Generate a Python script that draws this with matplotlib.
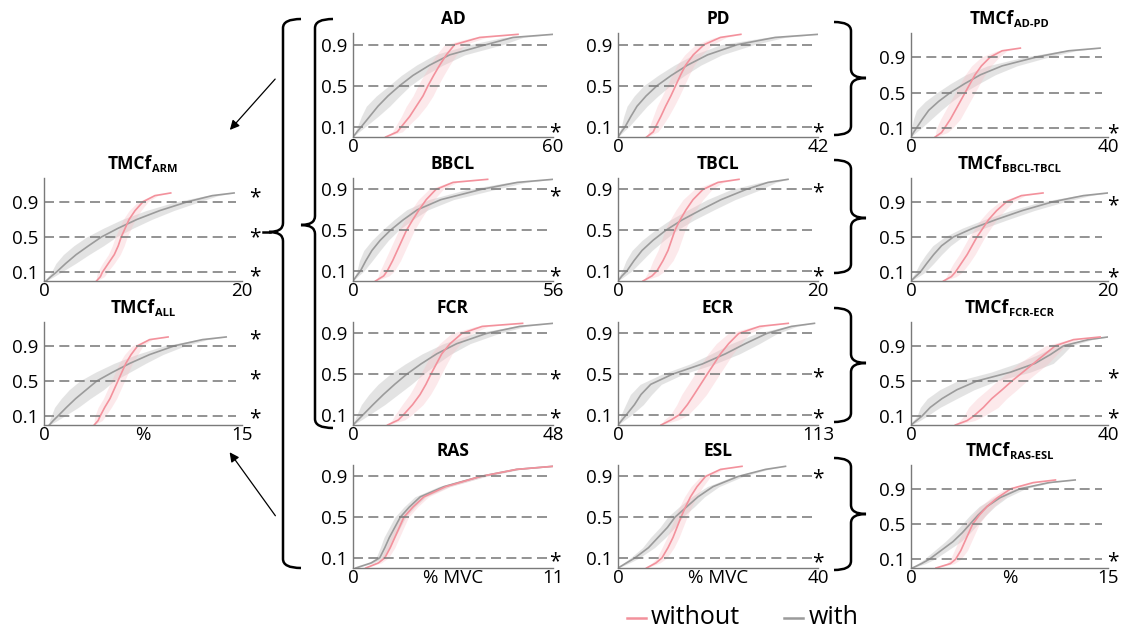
import numpy as np
import matplotlib
matplotlib.use("Agg")
import matplotlib.pyplot as plt
from matplotlib.path import Path
from matplotlib.patches import PathPatch, FancyArrowPatch
from matplotlib.lines import Line2D

plt.rcParams['font.family'] = ['Open Sans', 'DejaVu Sans']

W, H = 1126, 631

# cumulative levels at which the curves were read
levels = [0, 0.05, 0.1, 0.2, 0.3, 0.4, 0.5, 0.6, 0.7, 0.8, 0.9, 0.97, 1.0]

# x value at each level ("with" = gray, "without" = pink) and band half widths
ad_with = [0, 1.2, 2.5, 5.0, 7.5, 10.5, 14, 18, 23, 29, 40, 48, 60]
ad_with_band = [0, 0.6, 1.2, 2.5, 3.5, 3.5, 3.2, 3.5, 4.0, 4.5, 5, 3, 0]
ad_without = [9.8, 13.3, 14.5, 17, 19, 21, 22.5, 24.2, 26, 28, 30.5, 38, 49.5]
ad_without_band = [0, 1.5, 1.8, 2.5, 3, 3, 3, 3, 3, 3, 3, 2, 0]

pd_with = [0, 0.7, 1.5, 2.7, 4.0, 5.9, 8.2, 11.2, 14.6, 18.8, 25.1, 33, 42]
pd_with_band = [0, 0.4, 0.8, 1.5, 2.1, 2.5, 2.8, 2.8, 2.8, 3.0, 3.5, 2, 0]
pd_without = [6.0, 7.4, 7.9, 9.0, 10, 11.1, 12.1, 13.1, 14.2, 15.8, 18.1, 21.5, 25.8]
pd_without_band = [0, 1.0, 1.3, 1.6, 1.8, 1.8, 1.8, 1.8, 1.8, 1.8, 1.8, 1.2, 0]

adpd_with = [0, 0.5, 1.1, 2.3, 3.6, 5.6, 8.0, 10.9, 14.1, 18.5, 25.5, 32, 38.4]
adpd_with_band = [0, 0.5, 1.0, 1.8, 2.5, 2.7, 2.7, 2.9, 3.0, 3.0, 2.5, 1.5, 0]
adpd_without = [4.9, 6.2, 6.8, 8.0, 9.0, 10.0, 11.0, 12.0, 13.0, 14.3, 16.1, 18.5, 22.2]
adpd_without_band = [0, 1.2, 1.6, 2.0, 2.0, 2.0, 2.0, 2.0, 2.0, 2.0, 1.8, 1.0, 0]

bbcl_with = [0, 1.0, 2.1, 3.6, 5.3, 7.6, 10.5, 14.0, 18, 24.6, 35.8, 46, 56]
bbcl_with_band = [0, 0.5, 1.0, 1.8, 2.3, 2.3, 2.3, 2.6, 3.0, 3.5, 4.0, 2.5, 0]
bbcl_without = [6.3, 8.6, 9.6, 11.1, 12.4, 13.7, 15, 16.7, 18.5, 20.5, 23.2, 28, 37.7]
bbcl_without_band = [0, 1.5, 2.0, 2.2, 2.2, 2.2, 2.2, 2.2, 2.2, 2.2, 2.0, 1.2, 0]

tbcl_with = [0, 0.4, 0.9, 1.6, 2.4, 3.5, 4.8, 6.4, 8.3, 10.3, 12.8, 15, 17]
tbcl_with_band = [0, 0.3, 0.5, 0.8, 1.0, 1.1, 1.1, 1.2, 1.3, 1.4, 1.5, 0.8, 0]
tbcl_without = [2.5, 3.4, 3.9, 4.5, 5.0, 5.35, 5.7, 6.2, 6.8, 7.5, 8.5, 10, 12.1]
tbcl_without_band = [0, 0.6, 0.8, 1.0, 1.0, 1.0, 1.0, 1.0, 1.0, 1.0, 0.9, 0.5, 0]

bt_with = [0, 0.45, 0.94, 1.6, 2.3, 3.1, 4.3, 6.3, 8.7, 11.3, 14.4, 17.5, 20]
bt_with_band = [0, 0.3, 0.5, 0.7, 0.8, 0.9, 0.9, 1.1, 1.2, 1.2, 1.2, 0.7, 0]
bt_without = [3.3, 4.1, 4.5, 5.1, 5.7, 6.2, 6.7, 7.3, 7.9, 8.7, 9.7, 11.2, 13.4]
bt_without_band = [0, 0.5, 0.7, 0.8, 0.8, 0.8, 0.8, 0.8, 0.8, 0.8, 0.7, 0.4, 0]

arm_with = [0.2, 0.7, 1.24, 2.2, 3.25, 4.5, 5.8, 7.5, 9.4, 11.7, 14.5, 17, 19.2]
arm_with_band = [0, 0.3, 0.5, 1.0, 1.3, 1.5, 1.5, 1.5, 1.5, 1.4, 1.2, 0.6, 0]
arm_without = [5.3, 5.7, 5.9, 6.5, 7.1, 7.5, 7.8, 8.2, 8.6, 9.2, 10.0, 11.2, 12.8]
arm_without_band = [0, 0.4, 0.5, 0.6, 0.6, 0.6, 0.6, 0.6, 0.6, 0.6, 0.5, 0.3, 0]

all_with = [0.4, 0.7, 1.04, 1.7, 2.4, 3.2, 4.0, 5.2, 6.5, 8.0, 9.9, 12, 13.8]
all_with_band = [0, 0.3, 0.5, 0.9, 1.1, 1.3, 1.3, 1.3, 1.2, 1.0, 0.8, 0.4, 0]
all_without = [3.8, 4.1, 4.25, 4.6, 5.0, 5.3, 5.6, 5.9, 6.2, 6.6, 7.1, 8.0, 9.4]
all_without_band = [0, 0.3, 0.4, 0.5, 0.5, 0.5, 0.5, 0.5, 0.5, 0.5, 0.4, 0.2, 0]

fcr_with = [0, 1.2, 2.4, 4.8, 7.3, 10.0, 12.9, 16.3, 20.1, 24.9, 32, 40, 48]
fcr_with_band = [0, 0.8, 1.5, 2.8, 3.5, 4.0, 4.0, 3.8, 3.5, 3.2, 3.0, 1.5, 0]
fcr_without = [8.3, 10.9, 12.1, 14.3, 16.1, 17.5, 18.7, 20.0, 21.3, 23.3, 26.1, 31, 40.7]
fcr_without_band = [0, 1.5, 2.0, 2.5, 2.5, 2.5, 2.5, 2.5, 2.5, 2.5, 2.5, 1.5, 0]

ecr_with = [0, 2.3, 4.7, 9.3, 13, 18.5, 30.8, 47.6, 60.7, 71.9, 84, 98, 111]
ecr_with_band = [0, 1.5, 3, 5, 6, 6, 6, 7, 8, 8, 6, 3, 0]
ecr_without = [24.3, 30, 34.6, 39.2, 43, 46.7, 50.4, 54.2, 57.9, 62.5, 68.2, 80, 96.2]
ecr_without_band = [0, 4, 5, 6, 7, 7, 7, 7, 7, 7, 6, 3, 0]

fe_with = [0, 1.1, 2.2, 3.9, 6.3, 9.3, 13.4, 20.2, 25.2, 28.3, 31, 36, 40]
fe_with_band = [0, 0.7, 1.0, 2.0, 3.0, 3.5, 4.0, 4.0, 3.7, 2.5, 1.5, 0.8, 0]
fe_without = [9.0, 11.4, 12.7, 14.7, 16.4, 18.5, 20.5, 22.7, 24.9, 27.1, 29.3, 33, 38.4]
fe_without_band = [0, 1.5, 2.0, 3.0, 3.0, 3.0, 3.0, 3.0, 3.0, 2.5, 2.0, 1.0, 0]

ras_with = [0.15, 1.0, 1.47, 1.75, 2.0, 2.3, 2.6, 3.1, 3.7, 5.0, 7.0, 9.0, 11]
ras_with_band = [0, 0.15, 0.2, 0.25, 0.3, 0.3, 0.3, 0.3, 0.3, 0.3, 0.3, 0.2, 0]
ras_without = [0.7, 1.4, 1.75, 2.05, 2.3, 2.55, 2.8, 3.3, 3.9, 5.1, 7.0, 9.0, 11]
ras_without_band = [0, 0.15, 0.2, 0.25, 0.25, 0.25, 0.25, 0.25, 0.25, 0.25, 0.25, 0.15, 0]

esl_with = [0, 1.7, 3.4, 6.1, 8.0, 9.9, 11.4, 13.7, 16.0, 19.0, 24.0, 29.5, 33.5]
esl_with_band = [0, 0.6, 0.9, 1.2, 1.5, 1.5, 1.5, 1.5, 1.3, 1.2, 1.0, 0.6, 0]
esl_without = [5.7, 7.6, 8.8, 10.0, 11.0, 11.8, 12.6, 13.5, 14.5, 15.8, 17.5, 20.5, 24.8]
esl_without_band = [0, 0.8, 1.0, 1.2, 1.2, 1.2, 1.2, 1.2, 1.2, 1.2, 1.0, 0.6, 0]

re_with = [0.1, 0.8, 1.4, 2.3, 3.2, 3.9, 4.5, 5.1, 5.8, 6.8, 8.3, 10.5, 12.5]
re_with_band = [0, 0.3, 0.4, 0.5, 0.6, 0.6, 0.6, 0.6, 0.6, 0.5, 0.4, 0.2, 0]
re_without = [1.9, 3.0, 3.4, 3.8, 4.1, 4.4, 4.7, 5.2, 5.8, 6.6, 7.6, 9.3, 11.0]
re_without_band = [0, 0.3, 0.4, 0.5, 0.5, 0.5, 0.5, 0.5, 0.5, 0.5, 0.4, 0.2, 0]

# asterisk heights per panel
ad_stars = [0.1]
pd_stars = [0.1]
adpd_stars = [0.1]
bbcl_stars = [0.1, 0.88]
tbcl_stars = [0.1, 0.92]
bt_stars = [0.1, 0.92]
arm_stars = [0.11, 0.56, 1.01]
all_stars = [0.13, 0.58, 1.03]
fcr_stars = [0.12, 0.5]
ecr_stars = [0.12, 0.52]
fe_stars = [0.14, 0.59]
ras_stars = [0.12]
esl_stars = [0.11, 0.93]
re_stars = [0.14]

# (title, subscript, x max, x label, column, row, data...)
panels = [
    ("AD", "", 60, "", 2, 1, ad_with, ad_with_band, ad_without, ad_without_band, ad_stars),
    ("PD", "", 42, "", 3, 1, pd_with, pd_with_band, pd_without, pd_without_band, pd_stars),
    ("TMCf", "AD-PD", 40, "", 4, 1, adpd_with, adpd_with_band, adpd_without, adpd_without_band, adpd_stars),
    ("TMCf", "ARM", 20, "", 1, 2, arm_with, arm_with_band, arm_without, arm_without_band, arm_stars),
    ("BBCL", "", 56, "", 2, 2, bbcl_with, bbcl_with_band, bbcl_without, bbcl_without_band, bbcl_stars),
    ("TBCL", "", 20, "", 3, 2, tbcl_with, tbcl_with_band, tbcl_without, tbcl_without_band, tbcl_stars),
    ("TMCf", "BBCL-TBCL", 20, "", 4, 2, bt_with, bt_with_band, bt_without, bt_without_band, bt_stars),
    ("TMCf", "ALL", 15, "%", 1, 3, all_with, all_with_band, all_without, all_without_band, all_stars),
    ("FCR", "", 48, "", 2, 3, fcr_with, fcr_with_band, fcr_without, fcr_without_band, fcr_stars),
    ("ECR", "", 113, "", 3, 3, ecr_with, ecr_with_band, ecr_without, ecr_without_band, ecr_stars),
    ("TMCf", "FCR-ECR", 40, "", 4, 3, fe_with, fe_with_band, fe_without, fe_without_band, fe_stars),
    ("RAS", "", 11, "% MVC", 2, 4, ras_with, ras_with_band, ras_without, ras_without_band, ras_stars),
    ("ESL", "", 40, "% MVC", 3, 4, esl_with, esl_with_band, esl_without, esl_without_band, esl_stars),
    ("TMCf", "RAS-ESL", 15, "%", 4, 4, re_with, re_with_band, re_without, re_without_band, re_stars),
]

col_x = {1: (44, 242), 2: (353, 553), 3: (618, 818), 4: (911, 1108)}
row_y = {1: (33, 137), 2: (178, 281), 3: (322, 425), 4: (465, 568)}
col_ytop = {1: 1.17, 2: 1.013, 3: 1.013, 4: 1.17}
col_star_x = {1: 1.065, 2: 1.01, 3: 1.0, 4: 1.025}

gray_line = '#9b9b9b'
gray_band = '#c9c9c9'
pink_line = '#f3919c'
pink_band = '#f9c0c6'
dash_col = '#808080'


def fx(x):
    return x / W


def fy(y):
    return 1 - y / H


fig = plt.figure(figsize=(W / 100, H / 100), dpi=100)

title_parts = []
for (name, sub, xmax, xlab, col, row, w, wb, wo, wob, stars) in panels:
    x0, x1 = col_x[col]
    y0, y1 = row_y[row]
    ax = fig.add_axes([fx(x0), fy(y1), (x1 - x0) / W, (y1 - y0) / H])
    ax.patch.set_alpha(0)
    w, wb, wo, wob = map(np.array, (w, wb, wo, wob))
    ax.fill_betweenx(levels, w - wb, w + wb, color=gray_band, alpha=0.5, lw=0)
    ax.fill_betweenx(levels, wo - wob, wo + wob, color=pink_band, alpha=0.35, lw=0)
    ax.plot(w, levels, color=gray_line, lw=1.2)
    ax.plot(wo, levels, color=pink_line, lw=1.2)
    for lv in (0.1, 0.5, 0.9):
        ax.axhline(lv, xmin=0, xmax=0.97, color=dash_col, lw=1.2, dashes=(6, 3.2))
    for s in stars:
        ax.annotate("*", xy=(col_star_x[col], s), xycoords=("axes fraction", "data"),
                    xytext=(0, -8), textcoords="offset points", ha="center",
                    va="baseline", fontsize=15, annotation_clip=False)
    ax.set_xlim(0, xmax)
    ax.set_ylim(0, col_ytop[col])
    ax.set_xticks([0, xmax])
    ax.set_xticklabels(["0", str(xmax)])
    ax.set_yticks([0.1, 0.5, 0.9])
    ax.set_yticklabels(["0.1", "0.5", "0.9"])
    ax.tick_params(length=0, labelsize=13.5)
    ax.tick_params(axis="x", pad=1)
    ax.tick_params(axis="y", pad=4)
    for sp in ("top", "right"):
        ax.spines[sp].set_visible(False)
    for sp in ("left", "bottom"):
        ax.spines[sp].set_color('#7a7a7a')
        ax.spines[sp].set_linewidth(1.0)
    if xlab:
        ax.annotate(xlab, xy=(0.5, 0), xycoords="axes fraction", xytext=(0, -1),
                    textcoords="offset points", ha="center", va="top", fontsize=13.5)
    # title, centred over the panel
    cx = (x0 + x1) / 2
    base = y0 - 9
    t1 = fig.text(fx(cx), fy(base), name, ha="left", va="baseline",
                  fontsize=12.5, fontweight="bold")
    t2 = None
    if sub:
        t2 = fig.text(fx(cx), fy(base + 3), sub, ha="left", va="baseline",
                      fontsize=8, fontweight="bold")
    title_parts.append((cx, base, t1, t2))


def brace(x, y0, y1, ytip, tip, hook, r=9, lw=1.8):
    # tip < 0 opens to the left ("{"), tip > 0 to the right ("}")
    s = -1 if tip < 0 else 1
    verts = [
        (x - s * hook, y0), (x, y0), (x, y0 + r),
        (x, ytip - r), (x, ytip), (x + tip, ytip),
        (x, ytip), (x, ytip + r),
        (x, y1 - r), (x, y1), (x - s * hook, y1),
    ]
    codes = [Path.MOVETO, Path.CURVE3, Path.CURVE3,
             Path.LINETO, Path.CURVE3, Path.CURVE3,
             Path.CURVE3, Path.CURVE3,
             Path.LINETO, Path.CURVE3, Path.CURVE3]
    path = Path([(fx(a), fy(b)) for a, b in verts], codes)
    fig.add_artist(PathPatch(path, fill=False, lw=lw, color="black",
                             transform=fig.transFigure))


brace(283, 19, 568, 232, -14, 18)
brace(315, 19, 428, 225, -14, 18)
fig.add_artist(Line2D([fx(263), fx(270)], [fy(232), fy(232)], color="black", lw=1.8,
                      transform=fig.transFigure))
for (t0, t1_, tp) in [(22, 135, 78), (160, 273, 218), (308, 422, 363), (458, 570, 514)]:
    brace(851, t0, t1_, tp, 15, 17)

for (xa, ya, xb, yb) in [(277, 77, 228, 132), (277, 518, 228, 450)]:
    fig.add_artist(FancyArrowPatch((fx(xa), fy(ya)), (fx(xb), fy(yb)),
                                   transform=fig.transFigure, arrowstyle="-|>",
                                   mutation_scale=14, lw=0.9, color="black"))

# legend
fig.add_artist(Line2D([fx(627), fx(646)], [fy(618), fy(618)], color=pink_line, lw=1.8,
                      transform=fig.transFigure))
fig.text(fx(651), fy(618), "without", va="center", ha="left", fontsize=18)
fig.add_artist(Line2D([fx(784), fx(803)], [fy(618), fy(618)], color=gray_line, lw=1.8,
                      transform=fig.transFigure))
fig.text(fx(809), fy(618), "with", va="center", ha="left", fontsize=18)

# centre the two-part titles
fig.canvas.draw()
renderer = fig.canvas.get_renderer()
for cx, base, t1, t2 in title_parts:
    w1 = t1.get_window_extent(renderer).width
    w2 = t2.get_window_extent(renderer).width if t2 is not None else 0
    left = cx - (w1 + w2) / 2
    t1.set_x(fx(left))
    if t2 is not None:
        t2.set_x(fx(left + w1))

fig.savefig("out.png", dpi=100)
